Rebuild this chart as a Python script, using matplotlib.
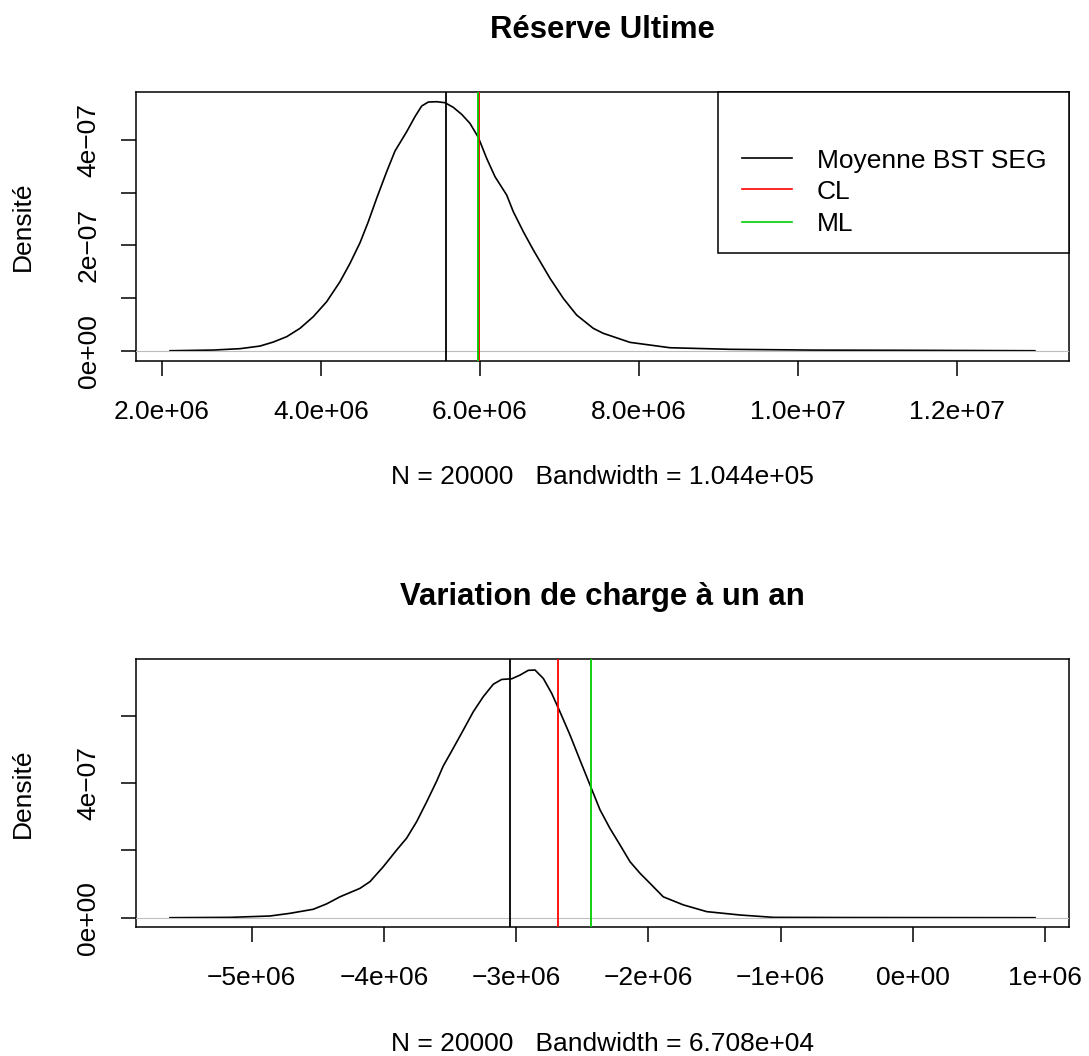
import matplotlib
matplotlib.use('Agg')
import matplotlib.pyplot as plt
from matplotlib.patches import Rectangle

plt.rcParams['font.family'] = ['Liberation Sans', 'DejaVu Sans']

# ---------------- data ----------------
# Top panel: "Réserve Ultime" density (x in units of 1e6, density in units of 1e-7)
reserve_x = [2.101, 2.646, 2.981, 3.233, 3.400, 3.568, 3.736, 3.903, 4.071, 4.239,
             4.365, 4.491, 4.595, 4.700, 4.826, 4.931, 5.078, 5.182, 5.266, 5.350,
             5.455, 5.560, 5.664, 5.770, 5.874, 5.979, 6.084, 6.189, 6.336, 6.419,
             6.545, 6.671, 6.881, 7.048, 7.216, 7.425, 7.551, 7.887, 8.390, 9.145,
             10.19, 11.45, 12.98]
reserve_d = [0.000, 0.013, 0.039, 0.089, 0.165, 0.266, 0.425, 0.646, 0.930, 1.310,
             1.658, 2.050, 2.448, 2.892, 3.397, 3.790, 4.156, 4.441, 4.643, 4.719,
             4.725, 4.706, 4.618, 4.485, 4.314, 4.048, 3.650, 3.302, 2.954, 2.638,
             2.259, 1.911, 1.373, 0.994, 0.677, 0.425, 0.330, 0.159, 0.057, 0.027,
             0.012, 0.008, 0.000]
reserve_vlines = [5.57e6, 5.992e6, 5.978e6]     # Moyenne BST SEG, CL, ML

# Bottom panel: "Variation de charge à un an" density
variation_x = [-5.618, -5.164, -4.862, -4.710, -4.534, -4.433, -4.332, -4.181, -4.105, -4.005,
               -3.903, -3.828, -3.752, -3.676, -3.601, -3.551, -3.475, -3.399, -3.324, -3.248,
               -3.172, -3.109, -3.033, -2.970, -2.908, -2.857, -2.794, -2.731, -2.668, -2.592,
               -2.517, -2.441, -2.365, -2.290, -2.214, -2.138, -2.063, -1.987, -1.887, -1.735,
               -1.558, -1.306, -1.054, -0.550, 0.925]
variation_d = [0.00, 0.01, 0.05, 0.13, 0.25, 0.41, 0.62, 0.87, 1.07, 1.51,
               2.01, 2.36, 2.85, 3.44, 4.05, 4.50, 5.03, 5.57, 6.11, 6.56,
               6.93, 7.07, 7.09, 7.20, 7.34, 7.35, 7.10, 6.66, 6.11, 5.42,
               4.68, 3.94, 3.20, 2.65, 2.16, 1.66, 1.32, 1.02, 0.62, 0.38,
               0.18, 0.08, 0.01, 0.005, 0.00]
variation_vlines = [-3.045e6, -2.681e6, -2.433e6]  # Moyenne BST SEG, CL, ML

legend_labels = ['Moyenne BST SEG', 'CL', 'ML']
line_colors = ['black', '#FF0000', '#00CD00']

reserve_xticks = [2.0e6, 4.0e6, 6.0e6, 8.0e6, 1.0e7, 1.2e7]
reserve_xticklabels = ['2.0e+06', '4.0e+06', '6.0e+06', '8.0e+06', '1.0e+07', '1.2e+07']
reserve_yticks = [0, 1e-7, 2e-7, 3e-7, 4e-7]
reserve_yticklabels = ['0e+00', '', '2e\u221207', '', '4e\u221207']

variation_xticks = [-5e6, -4e6, -3e6, -2e6, -1e6, 0, 1e6]
variation_xticklabels = ['\u22125e+06', '\u22124e+06', '\u22123e+06', '\u22122e+06',
                         '\u22121e+06', '0e+00', '1e+06']
variation_yticks = [0, 2e-7, 4e-7, 6e-7]
variation_yticklabels = ['0e+00', '', '4e\u221207', '']

titles = ['Réserve Ultime', 'Variation de charge à un an']
subtitles = ['N = 20000   Bandwidth = 1.044e+05', 'N = 20000   Bandwidth = 6.708e+04']
ylabel = 'Densité'

# ---------------- layout ----------------
W, H = 1089, 1056
fig = plt.figure(figsize=(W / 100, H / 100), dpi=100)


def rect(l, t, r, b):
    return [l / W, 1 - b / H, (r - l) / W, (b - t) / H]


TICK_FS = 19
ax1 = fig.add_axes(rect(136, 91.7, 1069, 360.7))
ax2 = fig.add_axes(rect(135.7, 659.3, 1069, 927.3))

panels = [
    (ax1, reserve_x, reserve_d, reserve_vlines, (1.673e6, 13.409e6), (-0.189e-7, 4.915e-7),
     reserve_xticks, reserve_xticklabels, reserve_yticks, reserve_yticklabels, 1e6),
    (ax2, variation_x, variation_d, variation_vlines, (-5.877e6, 1.182e6), (-0.285e-7, 7.668e-7),
     variation_xticks, variation_xticklabels, variation_yticks, variation_yticklabels, 1e6),
]

for i, (ax, xs, ds, vl, xlim, ylim, xt, xtl, yt, ytl, xscale) in enumerate(panels):
    ax.plot([v * xscale for v in xs], [d * 1e-7 for d in ds], color='black', lw=1.2,
            solid_joinstyle='round', zorder=2)
    ax.axhline(0, color='#BEBEBE', lw=0.8, zorder=3)
    for v, c in zip(vl, line_colors):
        ax.axvline(v, color=c, lw=1.3, zorder=4)
    ax.set_xlim(*xlim)
    ax.set_ylim(*ylim)
    ax.set_xticks(xt)
    ax.set_xticklabels(xtl)
    ax.set_yticks(yt)
    ax.set_yticklabels(ytl)
    ax.tick_params(axis='both', direction='out', length=11, width=1.1,
                   labelsize=TICK_FS, color='black')
    ax.tick_params(axis='x', pad=17)
    ax.tick_params(axis='y', pad=23)
    for lab in ax.get_yticklabels():
        lab.set_rotation(90)
        lab.set_ha('center')
        lab.set_va('center')
    for s in ax.spines.values():
        s.set_linewidth(1.1)

    # text positions in pixels
    top = 91.7 if i == 0 else 659.3
    bottom = 360.7 if i == 0 else 927.3
    fig.text(602.5 / W, 1 - (top - 54) / H, titles[i], ha='center', va='baseline',
             fontsize=22.4, fontweight='bold')
    fig.text(602.5 / W, 1 - (bottom + 123.3) / H, subtitles[i], ha='center', va='baseline',
             fontsize=TICK_FS)
    fig.text(23 / W, 1 - ((top + bottom) / 2) / H, ylabel, ha='center', va='center',
             rotation=90, fontsize=TICK_FS)

# legend (top panel), drawn as in R's legend box
ax1.add_patch(Rectangle((0.6235, 0.3993), 1 - 0.6235, 1 - 0.3993, transform=ax1.transAxes,
                        facecolor='white', edgecolor='black', lw=1.1, zorder=5, clip_on=False))
row_line_y = [0.7535, 0.6372, 0.5167]
row_text_y = [0.718, 0.6026, 0.4822]
for lab, c, ly, ty in zip(legend_labels, line_colors, row_line_y, row_text_y):
    ax1.plot([0.6492, 0.7028], [ly, ly], color=c, lw=1.2, transform=ax1.transAxes, zorder=6)
    ax1.text(0.7296, ty, lab, transform=ax1.transAxes, ha='left', va='baseline',
             fontsize=TICK_FS, zorder=6)

fig.savefig('out.png', dpi=100)
